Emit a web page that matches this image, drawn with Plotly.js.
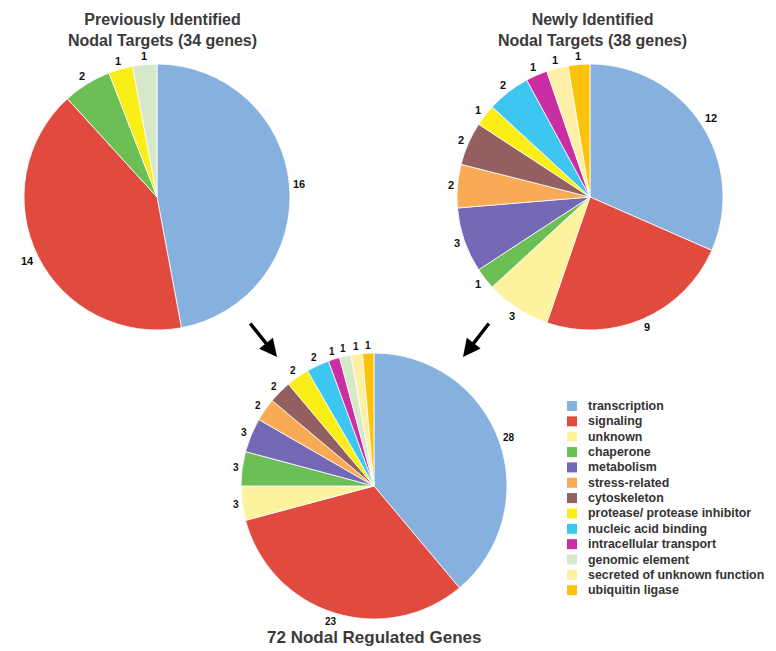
<!DOCTYPE html>
<html><head><meta charset="utf-8">
<script src="https://cdn.plot.ly/plotly-3.0.1.min.js"></script>
<style>html,body{margin:0;padding:0;background:#fff}#chart{width:776px;height:651px}</style>
</head><body><div id="chart"></div>
<script>
// ---- data ----
const categories = ["transcription","signaling","unknown","chaperone","metabolism","stress-related","cytoskeleton","protease/ protease inhibitor","nucleic acid binding","intracellular transport","genomic element","secreted of unknown function","ubiquitin ligase"];
const colors = ["#86b0de","#e04a3f","#fdf29e","#6cbf54","#7468b6","#f8aa55","#94605f","#fbee16","#3dc6f0","#c92fa2","#d5e8c8","#fdf0a6","#fdc20c"];
const previousValues = [16,14,0,2,0,0,0,1,0,0,1,0,0];
const newValues      = [12, 9,3,1,3,2,2,1,2,1,0,1,1];
const totalValues    = [28,23,3,3,3,2,2,2,2,1,1,1,1];
const titlePrevious = "Previously Identified<br>Nodal Targets (34 genes)";
const titleNew = "Newly Identified<br>Nodal Targets (38 genes)";
const titleTotal = "72 Nodal Regulated Genes";

const W = 776, H = 651;
function px(x){return x/W;}
function py(y){return 1 - y/H;}
const labelFamily = 'Liberation Sans, Arial';
const annotations = [];

function makePie(values, cx, cy, r, fontSize){
  const lab=[], val=[], col=[];
  values.forEach((v,i)=>{ if(v>0){lab.push(categories[i]); val.push(v); col.push(colors[i]);} });
  // value labels just outside each slice, at the slice's mid angle
  const total = val.reduce((a,b)=>a+b,0);
  let cum = 0;
  val.forEach(v=>{
    const th = (cum + v/2)/total*2*Math.PI; cum += v;
    const s = Math.sin(th), c = Math.cos(th);
    const hw = String(v).length*fontSize*0.3, hh = fontSize*0.45;
    const d = r + 3 + hw*Math.abs(s) + hh*Math.abs(c);
    annotations.push({text:String(v), x:px(cx + d*s), y:py(cy - d*c), xref:'paper', yref:'paper',
      showarrow:false, xanchor:'center', yanchor:'middle',
      font:{family:labelFamily, size:fontSize, color:'#111', weight:'bold'}});
  });
  return {
    type:'pie', labels:lab, values:val, sort:false, direction:'clockwise', rotation:0,
    marker:{colors:col, line:{color:'#ffffff', width:0.8}},
    textinfo:'none',
    domain:{x:[px(cx-r), px(cx+r)], y:[py(cy+r), py(cy-r)]},
    automargin:false, hoverinfo:'label+value', showlegend:false
  };
}

const data = [
  makePie(previousValues, 157, 197, 133, 11),
  makePie(newValues, 590, 197, 133, 11),
  makePie(totalValues, 374, 486, 133, 10)
];

const titleFont = {family:labelFamily, size:16, color:'#3a3a3a', weight:'bold'};
annotations.push(
  {text:titlePrevious, x:px(162), y:py(30), xref:'paper', yref:'paper', showarrow:false, font:titleFont, xanchor:'center', yanchor:'middle'},
  {text:titleNew, x:px(592), y:py(30), xref:'paper', yref:'paper', showarrow:false, font:titleFont, xanchor:'center', yanchor:'middle'},
  {text:titleTotal, x:px(374), y:py(637), xref:'paper', yref:'paper', showarrow:false, font:Object.assign({}, titleFont, {size:17}), xanchor:'center', yanchor:'middle'},
  {text:'', x:px(277), y:py(357), xref:'paper', yref:'paper', showarrow:true, ax:-28, ay:-35, arrowhead:2, arrowsize:1, arrowwidth:3.5, arrowcolor:'#000'},
  {text:'', x:px(463), y:py(357), xref:'paper', yref:'paper', showarrow:true, ax:27, ay:-35, arrowhead:2, arrowsize:1, arrowwidth:3.5, arrowcolor:'#000'}
);
const shapes = [];
const legX = 567, legY0 = 406, legStep = 15.35, sq = 10;
categories.forEach((c,i)=>{
  const yc = legY0 + i*legStep;
  shapes.push({type:'rect', xref:'paper', yref:'paper', x0:px(legX), x1:px(legX+sq), y0:py(yc+sq/2), y1:py(yc-sq/2), fillcolor:colors[i], line:{width:0}});
  annotations.push({text:c, x:px(586), y:py(yc), xref:'paper', yref:'paper', showarrow:false, xanchor:'left', yanchor:'middle',
    font:{family:labelFamily, size:12.4, color:'#333', weight:'bold'}});
});

const layout = {
  width:W, height:H, margin:{l:0,r:0,t:0,b:0}, paper_bgcolor:'#fff', plot_bgcolor:'#fff',
  showlegend:false, annotations:annotations, shapes:shapes
};
Plotly.newPlot('chart', data, layout, {displayModeBar:false, staticPlot:true});
</script></body></html>
